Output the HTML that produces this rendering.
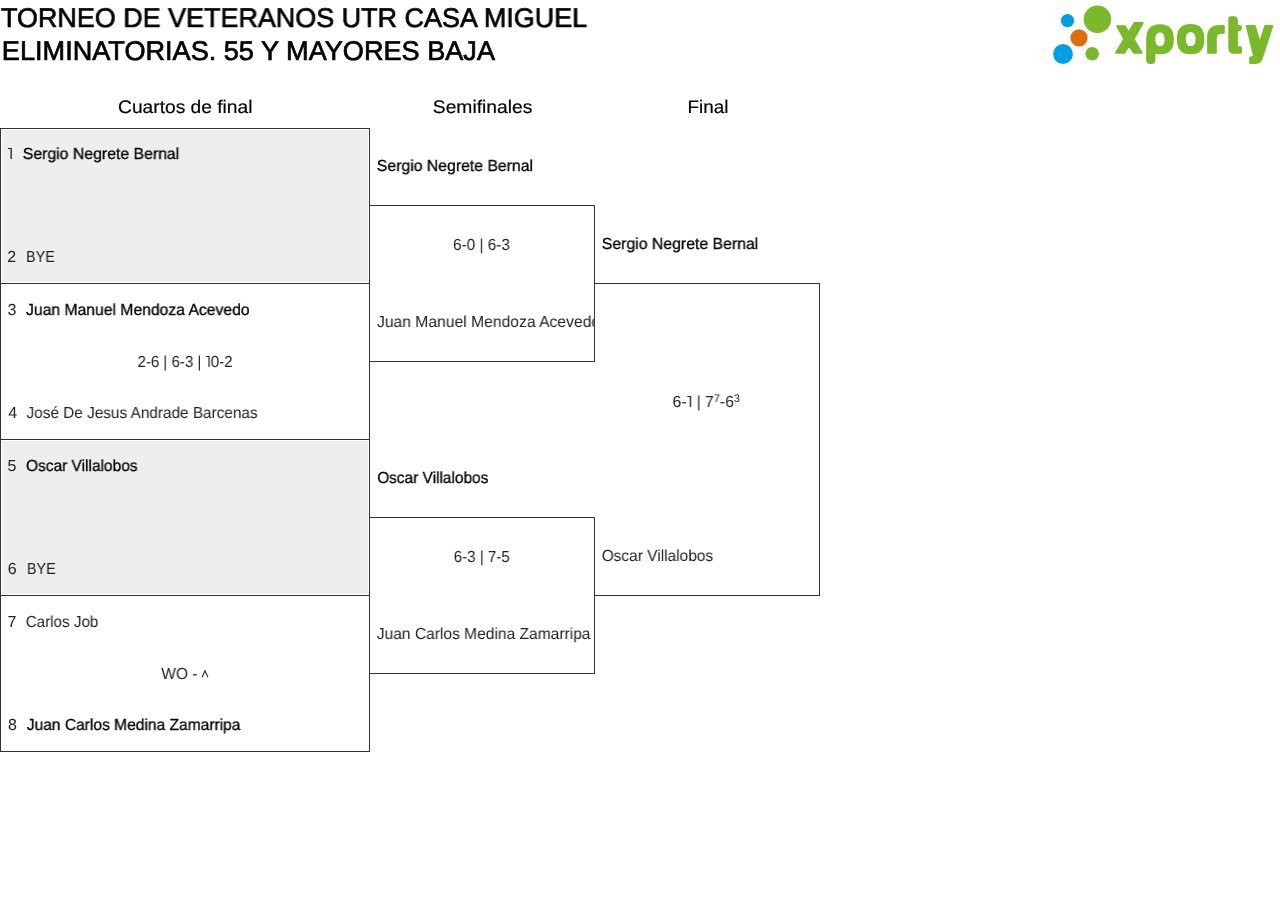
<!DOCTYPE html>
<html lang="es"><head><meta charset="utf-8"><title>Torneo de Veteranos UTR Casa Miguel</title>
<style>
html,body{margin:0;padding:0;background:#fff;}
body{width:1280px;height:916px;position:relative;overflow:hidden;font-family:"Liberation Sans",sans-serif;}
.x{position:absolute;white-space:nowrap;line-height:0;transform-origin:0 0;display:block;will-change:transform;text-rendering:geometricPrecision;}
.one{display:inline-block;width:5.7px;height:0;position:relative;vertical-align:baseline;font-style:normal;}
.one svg{position:absolute;left:0;bottom:0;fill:currentColor;overflow:visible;}
.one b{position:absolute;left:0;bottom:0;font-weight:normal;opacity:0;font-size:1px;}
.h{position:absolute;opacity:0;font-size:1px;font-weight:normal;}
.x sup{font-size:69%;line-height:0;position:relative;vertical-align:baseline;top:-0.46em;}
.title{font-size:27.0px;font-weight:400;color:#000;-webkit-text-stroke:0.68px #000;}
.head{font-size:18.2px;font-weight:400;color:#000;-webkit-text-stroke:0.18px #000;}
.b{font-size:16.0px;font-weight:400;color:#000;-webkit-text-stroke:0.3px #000;}
.r{font-size:16.0px;font-weight:400;color:#222;}
.n{font-size:16.0px;font-weight:400;color:#222;}
.ln{position:absolute;background:#333;}
.g{position:absolute;background:#eee;}
.clip{position:absolute;overflow:hidden;}
</style></head>
<body>
<div class="g" style="left:2px;top:130px;width:366px;height:152px"></div>
<div class="g" style="left:2px;top:441px;width:366px;height:153px"></div>
<div class="ln" style="left:0px;top:128px;width:370px;height:1px"></div>
<div class="ln" style="left:0px;top:283px;width:370px;height:1px"></div>
<div class="ln" style="left:0px;top:439px;width:370px;height:1px"></div>
<div class="ln" style="left:0px;top:595px;width:370px;height:1px"></div>
<div class="ln" style="left:0px;top:751px;width:370px;height:1px"></div>
<div class="ln" style="left:0px;top:128px;width:1px;height:624px"></div>
<div class="ln" style="left:369px;top:128px;width:1px;height:624px"></div>
<div class="ln" style="left:369px;top:205px;width:226px;height:1px"></div>
<div class="ln" style="left:369px;top:361px;width:226px;height:1px"></div>
<div class="ln" style="left:369px;top:517px;width:226px;height:1px"></div>
<div class="ln" style="left:369px;top:673px;width:226px;height:1px"></div>
<div class="ln" style="left:594px;top:205px;width:1px;height:157px"></div>
<div class="ln" style="left:594px;top:517px;width:1px;height:157px"></div>
<div class="ln" style="left:594px;top:283px;width:226px;height:1px"></div>
<div class="ln" style="left:594px;top:595px;width:226px;height:1px"></div>
<div class="ln" style="left:819px;top:283px;width:1px;height:313px"></div>
<svg class="logo" width="240" height="76" viewBox="1040 0 240 76" style="position:absolute;left:1040px;top:0" role="img" aria-label="xporty">
<circle cx="1097.4" cy="19.2" r="13.7" fill="#7ab929"/>
<circle cx="1092.2" cy="53.7" r="6.8" fill="#7ab929"/>
<circle cx="1067.5" cy="20.6" r="6.65" fill="#009ee3"/>
<circle cx="1063.0" cy="54.0" r="9.9" fill="#009ee3"/>
<circle cx="1079.0" cy="37.8" r="8.6" fill="#e36c0a"/>
<g fill="#7ab929" stroke="#7ab929" stroke-width="2.2" stroke-linejoin="round">
<path d="M1117.3,26.3 L1124.6,26.3 L1128.8,32.9 L1134.5,23.1 L1142.5,23.1 L1133.4,39.1 L1141.6,52.7 L1134,52.7 L1129,45.1 L1124.2,52.7 L1116.2,52.7 L1124.5,39.1 Z"/>
<path d="M1246.9,26 L1254.7,26 L1259.8,43.3 L1265.3,26 L1272.2,26 L1261.6,58.4 Q1260.3,62.8 1255.5,62.8 L1250.6,62.8 Q1250.2,62.8 1250.2,62.4 L1250.2,58 Q1250.2,57.5 1250.6,57.5 L1254.3,56.8 Z"/>
</g>
<g fill="#7ab929">
<path fill-rule="evenodd" d="M1146.20,39.25 C1146.20,29.02 1150.63,24.20 1160.05,24.20 C1169.47,24.20 1173.90,29.02 1173.90,39.25 C1173.90,49.48 1169.47,54.30 1160.05,54.30 Q1157.5,54.3 1155.4,53.8 L1155.4,59.9 Q1155.4,63.9 1151.4,63.9 L1150.2,63.9 Q1146.2,63.9 1146.2,59.9 Z M1155.40,39.35 C1155.40,34.80 1156.96,32.45 1160.00,32.45 C1163.04,32.45 1164.60,34.80 1164.60,39.35 C1164.60,43.90 1163.04,46.25 1160.00,46.25 C1156.96,46.25 1155.40,43.90 1155.40,39.35 Z"/>
<path fill-rule="evenodd" d="M1176.90,39.15 C1176.90,28.92 1181.30,24.10 1190.65,24.10 C1200.00,24.10 1204.40,28.92 1204.40,39.15 C1204.40,49.38 1200.00,54.20 1190.65,54.20 C1181.30,54.20 1176.90,49.38 1176.90,39.15 Z M1185.85,39.20 C1185.85,34.65 1187.50,32.30 1190.70,32.30 C1193.90,32.30 1195.55,34.65 1195.55,39.20 C1195.55,43.75 1193.90,46.10 1190.70,46.10 C1187.50,46.10 1185.85,43.75 1185.85,39.20 Z"/>
<path d="M1207.1,52.8 L1207.1,37 C1207.1,29 1212,24.9 1219.5,24.9 L1223.8,24.9 Q1224.8,24.9 1224.8,25.9 L1224.8,32.8 Q1224.8,33.8 1223.8,33.8 L1221.5,33.8 C1218.5,33.8 1216.8,35.5 1216.8,38.5 L1216.8,52.8 Q1216.8,53.8 1215.8,53.8 L1208.1,53.8 Q1207.1,53.8 1207.1,52.8 Z"/>
<path d="M1228.3,19 Q1228.3,16.3 1231,16.3 L1233.5,16.3 Q1237.9,16.3 1237.9,20.8 L1237.9,24.9 L1239.5,24.9 Q1242,24.9 1242,27.5 Q1242,31.6 1237.9,31.6 L1237.9,46.3 L1240.5,46.3 Q1242,46.3 1242,47.8 L1242,52.3 Q1242,53.8 1240.5,53.8 L1234,53.8 Q1228.3,53.8 1228.3,48 Z"/>
</g>
</svg>
<span id="t1" class="x title" style="left:1px;top:18px;padding-left:0.04px;transform:scaleX(0.9976);">TORNEO DE VETERANOS UTR CASA MIGUEL</span>
<span id="t2" class="x title" style="left:1px;top:51px;padding-left:0.86px;transform:scaleX(1.0040);">ELIMINATORIAS. 55 Y MAYORES BAJA</span>
<span id="h1" class="x head" style="left:118px;top:107px;padding-left:0.10px;transform:scaleX(1.0548);">Cuartos de final</span>
<span id="h2" class="x head" style="left:432px;top:107px;padding-left:0.76px;transform:scaleX(1.0586);">Semifinales</span>
<span id="h3" class="x head" style="left:687px;top:107px;padding-left:0.42px;transform:scaleX(1.0394);">Final</span>
<span id="q1n" class="x n" style="left:7px;top:155px;"><i class="one"><svg viewBox="0 0 5.7 11" width="5.7" height="11" aria-hidden="true"><path d="M0.90,0 H4.85 V11 H3.50 V1.1 H0.90 Z"/></svg><b>1</b></i></span>
<span id="q1" class="x b" style="left:22px;top:155px;padding-left:0.75px;transform:scaleX(0.9885);">Sergio Negrete Bernal</span>
<span id="q2n" class="x n" style="left:7px;top:258px;padding-left:0.27px;">2</span>
<span id="q2" class="x r" style="left:26px;top:258px;padding-left:0.05px;transform:scaleX(0.8957);">BYE</span>
<span id="q3n" class="x n" style="left:7px;top:311px;padding-left:0.49px;">3</span>
<span id="q3" class="x b" style="left:26px;top:311px;transform:scaleX(0.9819);">Juan Manuel Mendoza Acevedo</span>
<span id="q34s" class="x r" style="left:137px;top:363px;padding-left:0.50px;transform:scaleX(0.9399);">2-6 | 6-3 | <i class="one"><svg viewBox="0 0 5.7 11" width="5.7" height="11" aria-hidden="true"><path d="M0.40,0 H4.35 V11 H3.00 V1.1 H0.40 Z"/></svg><b>1</b></i>0-2</span>
<span id="q4n" class="x n" style="left:8px;top:414px;padding-left:0.22px;">4</span>
<span id="q4" class="x r" style="left:26px;top:414px;padding-left:0.49px;transform:scaleX(0.9592);">José De Jesus Andrade Barcenas</span>
<span id="q5n" class="x n" style="left:7px;top:467px;padding-left:0.38px;">5</span>
<span id="q5" class="x b" style="left:25px;top:467px;padding-left:0.99px;transform:scaleX(0.9679);">Oscar Villalobos</span>
<span id="q6n" class="x n" style="left:7px;top:570px;padding-left:0.64px;">6</span>
<span id="q6" class="x r" style="left:26px;top:570px;padding-left:0.93px;transform:scaleX(0.9024);">BYE</span>
<span id="q7n" class="x n" style="left:7px;top:623px;padding-left:0.40px;">7</span>
<span id="q7" class="x r" style="left:25px;top:623px;padding-left:0.72px;transform:scaleX(0.9498);">Carlos Job</span>
<span id="q78s" class="x r" style="left:161px;top:675px;padding-left:0.29px;transform:scaleX(0.9681);">WO - <b class="h">^</b></span>
<span id="q8n" class="x n" style="left:7px;top:726px;padding-left:0.95px;">8</span>
<span id="q8" class="x b" style="left:26px;top:726px;padding-left:0.76px;transform:scaleX(0.9728);">Juan Carlos Medina Zamarripa</span>
<span id="s1" class="x b" style="left:376px;top:167px;padding-left:0.85px;transform:scaleX(0.9866);">Sergio Negrete Bernal</span>
<span id="s1s" class="x r" style="left:453px;top:246px;transform:scaleX(0.9588);">6-0 | 6-3</span>
<div class="clip" style="left:370px;top:300px;width:224px;height:40px"><span id="s2" class="x r" style="left:6px;top:23px;padding-left:0.98px;transform:scaleX(0.9798);">Juan Manuel Mendoza Acevedo</span></div>
<span id="s3" class="x b" style="left:377px;top:479px;padding-left:0.16px;transform:scaleX(0.9644);">Oscar Villalobos</span>
<span id="s3s" class="x r" style="left:453px;top:558px;padding-left:0.84px;transform:scaleX(0.9422);">6-3 | 7-5</span>
<span id="s4" class="x r" style="left:376px;top:635px;padding-left:0.79px;transform:scaleX(0.9729);">Juan Carlos Medina Zamarripa</span>
<span id="f1" class="x b" style="left:601px;top:245px;padding-left:0.80px;transform:scaleX(0.9885);">Sergio Negrete Bernal</span>
<span id="fs" class="x r" style="left:672px;top:403px;padding-left:0.56px;transform:scaleX(0.9858);">6-<i class="one"><svg viewBox="0 0 5.7 11" width="5.7" height="11" aria-hidden="true"><path d="M0.40,0 H4.35 V11 H3.00 V1.1 H0.40 Z"/></svg><b>1</b></i> | 7<sup>7</sup>-6<sup>3</sup></span>
<span id="f2" class="x r" style="left:601px;top:557px;padding-left:0.68px;transform:scaleX(0.9671);">Oscar Villalobos</span>
<svg width="12" height="12" viewBox="199 668 12 12" style="position:absolute;left:199px;top:668px"><path d="M202.3,676.7 L205,670.7 L207.7,676.7" fill="none" stroke="#222" stroke-width="1.05" stroke-linecap="round" stroke-linejoin="miter"/></svg>
</body></html>
